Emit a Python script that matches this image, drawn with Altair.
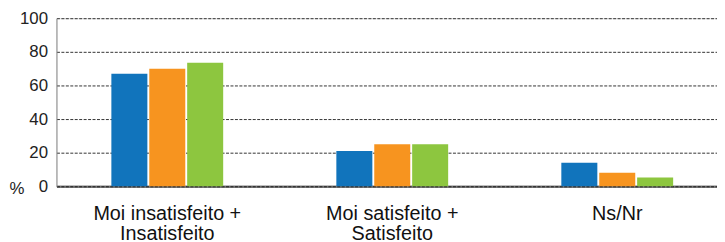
import altair as alt
import pandas as pd

categories = ["Moi insatisfeito + Insatisfeito", "Moi satisfeito + Satisfeito", "Ns/Nr"]
series = ["Série 1", "Série 2", "Série 3"]
values_s1 = [67, 21, 14]
values_s2 = [70, 25, 8]
values_s3 = [73.5, 25, 5.3]
colors = ["#1174BC", "#F7941F", "#8DC63F"]
y_ticks = [0, 20, 40, 60, 80, 100]

rows = []
for s, vals in zip(series, [values_s1, values_s2, values_s3]):
    for c, v in zip(categories, vals):
        rows.append({"categoria": c, "serie": s, "valor": v})
df = pd.DataFrame(rows)

label_expr = ("indexof(datum.label, '+') > 0 ? "
              "[substring(datum.label, 0, indexof(datum.label, '+') + 1), "
              "substring(datum.label, indexof(datum.label, '+') + 2)] : datum.label")

chart = alt.Chart(df).mark_bar().encode(
    x=alt.X("categoria:N", sort=categories,
            scale=alt.Scale(paddingInner=0.503, paddingOuter=0.2195, align=0.556),
            axis=alt.Axis(title=None, labelAngle=0, labelExpr=label_expr,
                          labelFont="Liberation Sans", labelFontSize=20,
                          labelColor="#111", labelPadding=18, labelLineHeight=20,
                          ticks=False, domainColor="black", domainOpacity=0.5,
                          domainWidth=2.5, labelBaseline="top")),
    xOffset=alt.XOffset("serie:N", sort=series,
                        scale=alt.Scale(paddingInner=0.05, paddingOuter=0)),
    y=alt.Y("valor:Q", scale=alt.Scale(domain=[0, 100], nice=False),
            axis=alt.Axis(values=y_ticks, title="%", titleAngle=0,
                          titleX=-48, titleY=172, titleAlign="left",
                          titleBaseline="middle", titleFont="Liberation Sans",
                          titleFontSize=17, titleFontWeight="normal",
                          titleColor="#222",
                          labelFont="Liberation Sans", labelFontSize=17,
                          labelColor="#222", labelPadding=9, ticks=False,
                          domainColor="#8a8a8a", domainWidth=1,
                          grid=True, gridColor="#333", gridDash=[3, 1.5],
                          gridWidth=1)),
    color=alt.Color("serie:N", sort=series,
                    scale=alt.Scale(domain=series, range=colors), legend=None),
).properties(
    width=668, height=170,
    autosize=alt.AutoSizeParams(type="none"),
    padding={"left": 49, "top": 9, "right": 0, "bottom": 55},
).configure_view(stroke=None).configure(background="white")

chart.save("out.html", embed_options={"renderer": "svg", "actions": False})
